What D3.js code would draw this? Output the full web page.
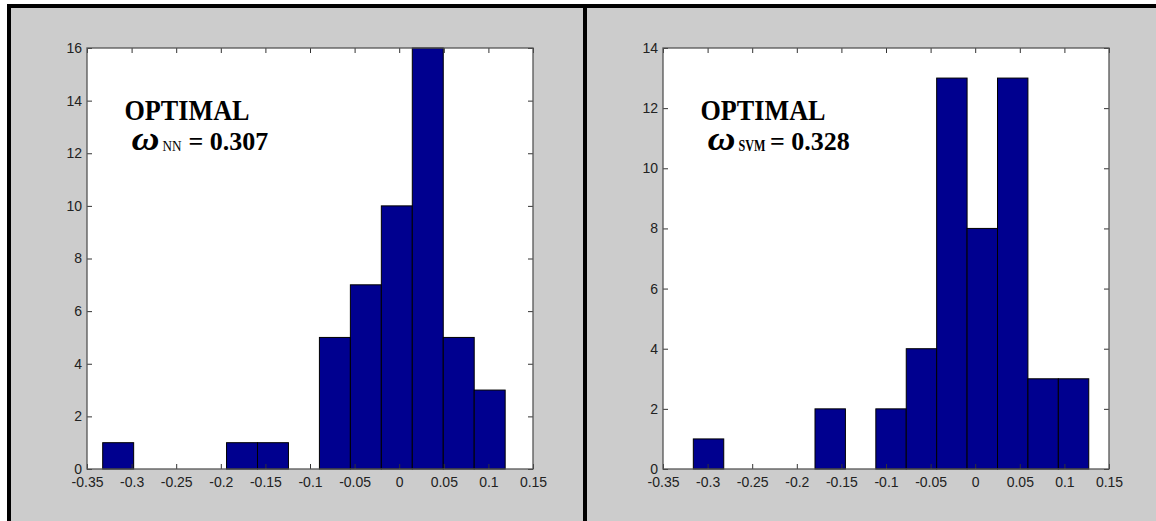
<!DOCTYPE html>
<html>
<head>
<meta charset="utf-8">
<script src="https://cdn.jsdelivr.net/npm/d3@7"></script>
<style>
  html, body { margin: 0; padding: 0; background: #fff; }
  svg { display: block; }
  .tick text { font-family: "Liberation Sans", Arial, sans-serif; font-size: 14px; fill: #222; }
</style>
</head>
<body>
<div id="chart"></div>
<script>
// histogram data
const nnBinRange = [-0.3324, 0.1188];
const nnCounts = [1, 0, 0, 0, 1, 1, 0, 5, 7, 10, 16, 5, 3];
const svmBinRange = [-0.316, 0.1273];
const svmCounts = [1, 0, 0, 0, 2, 0, 2, 4, 13, 8, 13, 3, 3];

const xTicks = [-0.35, -0.3, -0.25, -0.2, -0.15, -0.1, -0.05, 0, 0.05, 0.1, 0.15];
const nnYTicks = [0, 2, 4, 6, 8, 10, 12, 14, 16];
const svmYTicks = [0, 2, 4, 6, 8, 10, 12, 14];

const W = 1156, H = 521;

const svg = d3.select("#chart")
    .append("svg")
    .attr("width", W)
    .attr("height", H);

// frame: white strip, black borders, grey panels
svg.append("rect").attr("width", W).attr("height", H).attr("fill", "#fff");
svg.append("rect").attr("x", 7).attr("y", 4).attr("width", W - 7).attr("height", H - 4).attr("fill", "#000");
svg.append("rect").attr("x", 11).attr("y", 8).attr("width", 572).attr("height", H - 8).attr("fill", "#ccc");
svg.append("rect").attr("x", 587).attr("y", 8).attr("width", W - 587).attr("height", H - 8).attr("fill", "#ccc");

function drawPanel(opts) {
    const { left, right, counts, binRange, yTicks, yMax, sub, subBold, subWidth, valueX, value } = opts;
    const top = 48, bottom = 469;

    const x = d3.scaleLinear().domain([-0.35, 0.15]).range([left, right]);
    const y = d3.scaleLinear().domain([0, yMax]).range([bottom, top]);

    const g = svg.append("g");

    g.append("rect")
        .attr("x", left).attr("y", top)
        .attr("width", right - left).attr("height", bottom - top)
        .attr("fill", "#fff");

    // bins
    const step = (binRange[1] - binRange[0]) / counts.length;
    const bins = counts.map((c, i) => ({
        x0: binRange[0] + i * step,
        x1: binRange[0] + (i + 1) * step,
        n: c
    })).filter(d => d.n > 0);

    g.selectAll(".bar")
        .data(bins)
        .enter()
        .append("rect")
        .attr("class", "bar")
        .attr("x", d => x(d.x0))
        .attr("y", d => y(d.n))
        .attr("width", d => x(d.x1) - x(d.x0))
        .attr("height", d => y(0) - y(d.n))
        .attr("fill", "#00008f")
        .attr("stroke", "#000")
        .attr("stroke-width", 1);

    // axes, ticks pointing inward (plain hyphen minus like matlab)
    const bx = g.append("g")
        .attr("transform", `translate(0,${bottom})`)
        .call(d3.axisBottom(x).tickValues(xTicks).tickSize(-5).tickPadding(8)
            .tickFormat(d => String(+d.toFixed(2))));
    const tx = g.append("g")
        .attr("transform", `translate(0,${top})`)
        .call(d3.axisTop(x).tickValues(xTicks).tickSize(-5).tickFormat(""));
    const ly = g.append("g")
        .attr("transform", `translate(${left},0)`)
        .call(d3.axisLeft(y).tickValues(yTicks).tickSize(-5).tickPadding(6)
            .tickFormat(d => String(d)));
    const ry = g.append("g")
        .attr("transform", `translate(${right},0)`)
        .call(d3.axisRight(y).tickValues(yTicks).tickSize(-5).tickFormat(""));

    [bx, tx, ly, ry].forEach(a => {
        a.select(".domain").remove();
        a.selectAll(".tick line").attr("stroke", "#333");
    });
    bx.selectAll(".tick text").attr("dy", "0.9em").attr("y", 5);
    ly.selectAll(".tick text").attr("x", -5);

    g.append("rect")
        .attr("x", left).attr("y", top)
        .attr("width", right - left).attr("height", bottom - top)
        .attr("fill", "none")
        .attr("stroke", "#555")
        .attr("stroke-width", 1.3);

    // annotation
    const serif = "'Liberation Serif', 'Times New Roman', serif";
    g.append("text")
        .attr("x", left + 37.5).attr("y", 119.5)
        .attr("font-family", serif).attr("font-weight", "bold").attr("font-size", 30)
        .attr("textLength", 125).attr("lengthAdjust", "spacingAndGlyphs")
        .attr("fill", "#000")
        .text("OPTIMAL");
    g.append("text")
        .attr("x", left + 44.5).attr("y", 149.5)
        .attr("font-family", serif).attr("font-weight", "bold").attr("font-style", "italic")
        .attr("font-size", 34)
        .attr("textLength", 28).attr("lengthAdjust", "spacingAndGlyphs")
        .attr("fill", "#000")
        .text("ω");
    g.append("text")
        .attr("x", left + 75.5).attr("y", 150.5)
        .attr("font-family", serif).attr("font-weight", subBold ? "bold" : "normal")
        .attr("font-size", subBold ? 16 : 15)
        .attr("textLength", subWidth).attr("lengthAdjust", "spacingAndGlyphs")
        .attr("fill", "#000")
        .text(sub);
    g.append("text")
        .attr("x", left + valueX).attr("y", 150)
        .attr("font-family", serif).attr("font-weight", "bold").attr("font-size", 26)
        .attr("fill", "#000")
        .text("= " + value);
}

drawPanel({
    left: 87, right: 533,
    counts: nnCounts, binRange: nnBinRange,
    yTicks: nnYTicks, yMax: 16,
    sub: "NN", subBold: false, subWidth: 19, valueX: 101.5, value: "0.307"
});

drawPanel({
    left: 663, right: 1109,
    counts: svmCounts, binRange: svmBinRange,
    yTicks: svmYTicks, yMax: 14,
    sub: "SVM", subBold: true, subWidth: 27, valueX: 107, value: "0.328"
});
</script>
</body>
</html>
